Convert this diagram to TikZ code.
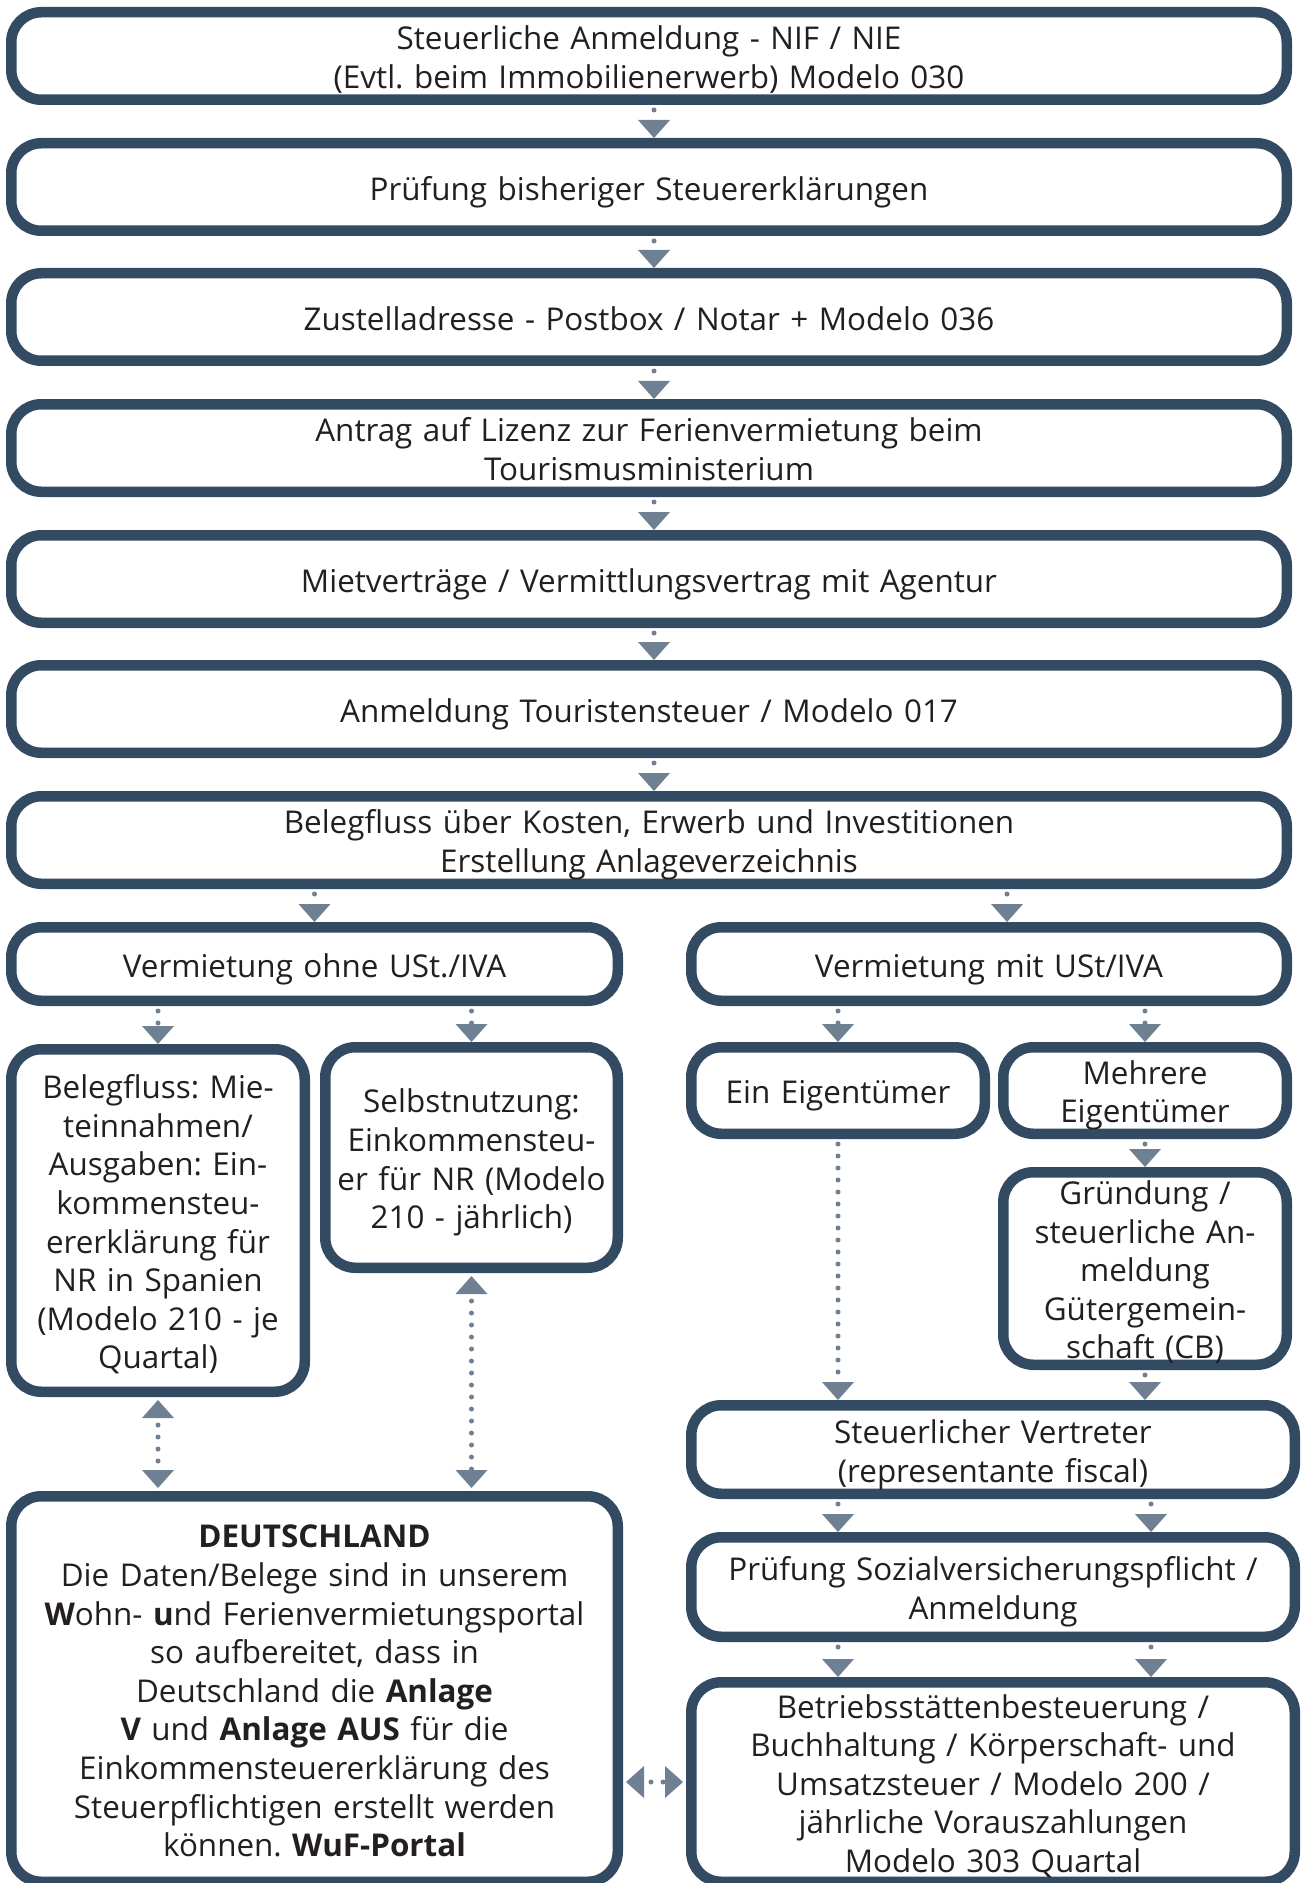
\documentclass[tikz,border=0pt]{standalone}
\usepackage{fontspec}
\setmainfont{Open Sans}
\usetikzlibrary{arrows.meta}

\definecolor{boxblue}{HTML}{324B63}
\definecolor{arrowgrey}{HTML}{6E8092}
\definecolor{textdark}{HTML}{231F20}

\tikzset{
  box/.style={draw=boxblue, line width=5.25pt, rounded corners=15pt, fill=white,
    text=textdark, align=center, inner xsep=0pt, inner ysep=-3pt, anchor=north west,
    text width=\pgfkeysvalueof{/pgf/minimum width}-4pt,
    font=\fontsize{15.7pt}{19.3pt}\selectfont\frenchspacing,
    execute at begin node={\rule{0pt}{1.1em}},
    execute at end node={\rule[-0.26em]{0pt}{0pt}}},
  conn/.style={draw=arrowgrey, line width=2.5pt, line cap=round,
    dash pattern=on 0pt off 6pt, shorten <=2.5pt,
    -{Triangle[width=16pt, length=9pt, line width=0pt]}},
  connboth/.style={draw=arrowgrey, line width=2.5pt, line cap=round,
    dash pattern=on 0pt off 6pt, dash phase=2.5pt, shorten <=1.5pt, shorten >=1.5pt,
    {Triangle[width=16pt, length=9pt, line width=0pt]}-{Triangle[width=16pt, length=9pt, line width=0pt]}}
}

\begin{document}
\begin{tikzpicture}[x=0.5pt, y=-0.5pt]

    \useasboundingbox (0,0) rectangle (1301,1883);
    \clip (0,0) rectangle (1301,1883);

    % Hauptkette
    \node[box, minimum width=637.75pt, minimum height=43.75pt] (B1) at (6,7)
      {Steuerliche Anmeldung - NIF / NIE\\(Evtl. beim Immobilienerwerb) Modelo 030};
    \node[box, minimum width=637.75pt, minimum height=43.75pt] (B2) at (6,138)
      {Prüfung bisheriger Steuererklärungen};
    \node[box, minimum width=637.75pt, minimum height=43.75pt] (B3) at (6,268)
      {Zustelladresse - Postbox / Notar + Modelo 036};
    \node[box, minimum width=637.75pt, minimum height=43.75pt] (B4) at (6,399)
      {Antrag auf Lizenz zur Ferienvermietung beim\\Tourismusministerium};
    \node[box, minimum width=637.75pt, minimum height=43.75pt] (B5) at (6,530)
      {Mietverträge / Vermittlungsvertrag mit Agentur};
    \node[box, minimum width=637.75pt, minimum height=43.75pt] (B6) at (6,660)
      {Anmeldung Touristensteuer / Modelo 017};
    \node[box, minimum width=637.75pt, minimum height=43.75pt] (B7) at (6,791)
      {Belegfluss über Kosten, Erwerb und Investitionen\\Erstellung Anlageverzeichnis};

    % Verzweigung
    \node[box, minimum width=303.25pt, minimum height=36.75pt] (ohne) at (6,922)
      {Vermietung ohne USt./IVA};
    \node[box, minimum width=297.75pt, minimum height=36.75pt] (mit) at (686,922)
      {Vermietung mit USt/IVA};

    % ohne USt.
    \node[box, minimum width=146.75pt, minimum height=171.25pt] (beleg) at (6,1044)
      {Belegfluss: Mie-\\teinnahmen/\\Ausgaben: Ein-\\kommensteu-\\ererklärung für\\NR in Spanien\\(Modelo 210 - je\\Quartal)};
    \node[box, minimum width=146.25pt, minimum height=110.25pt] (selbst) at (320,1042)
      {Selbstnutzung:\\Einkommensteu-\\er für NR (Modelo\\210 - jährlich)};
    \node[box, minimum width=303.25pt, minimum height=192.75pt] (de) at (6,1491)
      {\textbf{DEUTSCHLAND}\\Die Daten/Belege sind in unserem\\\textbf{W}ohn- \textbf{u}nd Ferienvermietungsportal\\so aufbereitet, dass in\\Deutschland die \textbf{Anlage}\\\textbf{V} und \textbf{Anlage AUS} für die\\Einkommensteuererklärung des\\Steuerpflichtigen erstellt werden\\können. \textbf{WuF-Portal}};

    % mit USt.
    \node[box, minimum width=146.75pt, minimum height=43.25pt] (ein) at (686,1042)
      {Ein Eigentümer};
    \node[box, minimum width=141.75pt, minimum height=43.25pt] (mehr) at (998,1042)
      {Mehrere\\Eigentümer};
    \node[box, minimum width=141.75pt, minimum height=96.25pt] (gruend) at (998,1167)
      {Gründung /\\steuerliche An-\\meldung\\Gütergemein-\\schaft (CB)};
    \node[box, minimum width=301.75pt, minimum height=44.25pt] (steuer) at (686,1400)
      {Steuerlicher Vertreter\\(representante fiscal)};
    \node[box, minimum width=301.75pt, minimum height=49.75pt] (pruef) at (686,1532)
      {Prüfung Sozialversicherungspflicht /\\Anmeldung};
    \node[box, minimum width=301.75pt, minimum height=99.75pt] (betr) at (686,1677)
      {Betriebsstättenbesteuerung /\\Buchhaltung / Körperschaft- und\\Umsatzsteuer / Modelo 200 /\\jährliche Vorauszahlungen\\Modelo 303 Quartal};

    % Pfeile
    \foreach \a/\b in {B1/B2, B2/B3, B3/B4, B4/B5, B5/B6, B6/B7}
      \draw[conn] ([xshift=2.5pt]\a.south) -- ([xshift=2.5pt]\b.north);

    \coordinate (mtop) at ([xshift=9pt]mit.north);
    \coordinate (xr) at ([xshift=3pt]gruend.south);

    \draw[conn] (B7.south -| ohne.north) -- (ohne.north);
    \draw[conn] (B7.south -| mtop) -- (mtop);

    \draw[conn] (ohne.south -| beleg.north) -- (beleg.north);
    \draw[conn] (ohne.south -| selbst.north) -- (selbst.north);
    \draw[conn] (mit.south -| ein.north) -- (ein.north);
    \draw[conn] (mit.south -| mehr.north) -- (mehr.north);

    \draw[conn] (mehr.south) -- (gruend.north);
    \draw[conn] (ein.south) -- (ein.south |- steuer.north);
    \draw[conn] (gruend.south) -- (gruend.south |- steuer.north);

    \draw[conn] (steuer.south -| ein.south) -- (pruef.north -| ein.south);
    \draw[conn] (steuer.south -| xr) -- (pruef.north -| xr);
    \draw[conn] (pruef.south -| ein.south) -- (betr.north -| ein.south);
    \draw[conn] (pruef.south -| xr) -- (betr.north -| xr);

    \draw[connboth] (beleg.south) -- (beleg.south |- de.north);
    \draw[connboth] (selbst.south) -- (selbst.south |- de.north);
    \draw[connboth] (betr.west -| de.east) -- (betr.west);

\end{tikzpicture}
\end{document}
